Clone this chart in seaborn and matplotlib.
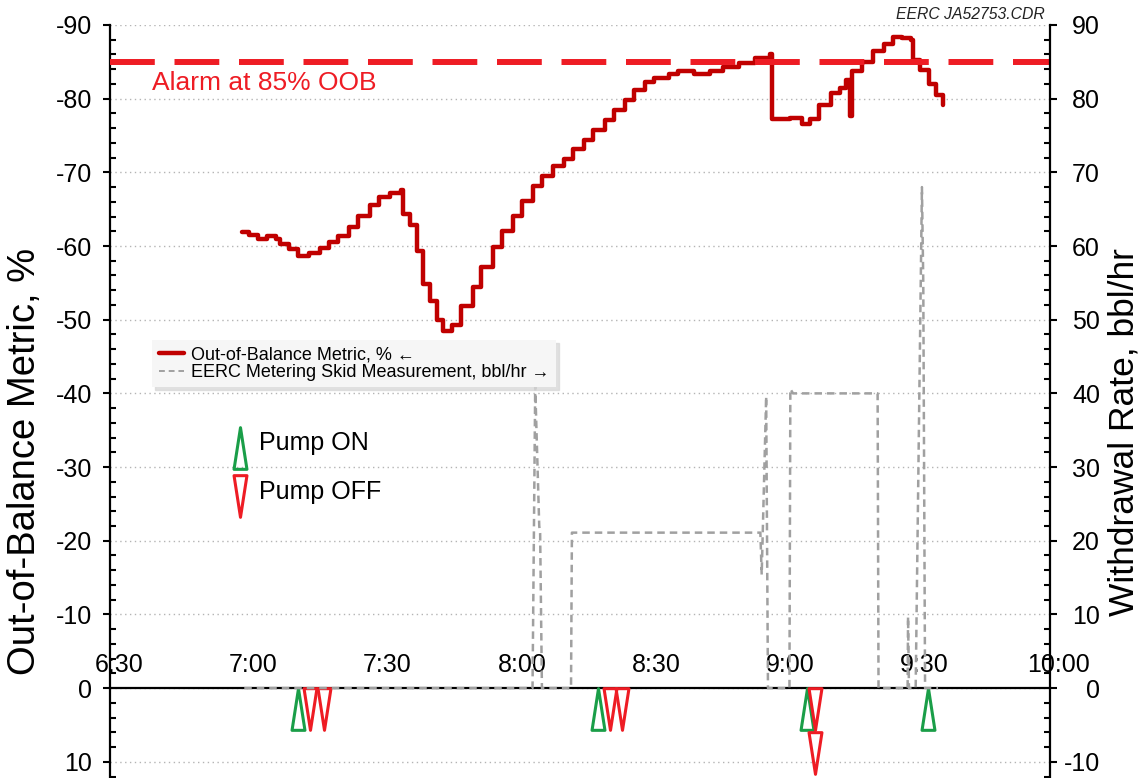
import matplotlib
matplotlib.use('Agg')
import numpy as np
import pandas as pd
import matplotlib.pyplot as plt
import matplotlib.ticker as mticker
from matplotlib.path import Path
from matplotlib.lines import Line2D
from matplotlib.transforms import ScaledTranslation
import seaborn as sns

# ── data (times are minutes after midnight) ──────────────────────────────────
oob_time = [419.5, 421.0, 423.0, 425.0, 427.0, 428.0, 430.0, 432.0, 434.5, 437.0,
            439.0, 441.0, 443.5, 445.5, 448.0, 450.0, 452.5, 455.0, 455.5, 457.0,
            458.5, 460.0, 461.5, 463.0, 464.5, 466.5, 468.5, 471.0, 473.0, 475.5,
            477.5, 480.0, 482.0, 484.5, 486.5, 489.0, 491.5, 493.5, 496.0, 498.0,
            500.5, 502.5, 505.0, 507.0, 509.5, 511.5, 515.0, 517.0, 520.5, 524.0,
            527.0, 530.5, 534.0, 537.5, 538.0, 542.0, 544.5, 546.5, 548.5, 551.0,
            553.0, 554.5, 555.3, 555.8, 558.0, 560.5, 563.0, 565.0, 567.0, 569.0,
            569.5, 571.0, 573.0, 574.5, 576.0]
oob_pct = [-61.9, -61.5, -61.0, -61.4, -60.9, -60.3, -59.6, -58.6, -59.0, -59.7,
           -60.5, -61.4, -62.6, -64.1, -65.6, -66.6, -67.2, -67.6, -64.3, -62.9,
           -59.3, -54.8, -52.6, -50.0, -48.5, -49.3, -51.8, -54.5, -57.2, -59.9,
           -62.0, -64.1, -66.1, -68.2, -69.5, -70.9, -71.8, -73.2, -74.4, -75.7,
           -77.1, -78.5, -79.8, -81.2, -82.2, -82.8, -83.3, -83.8, -83.4, -83.7,
           -84.3, -84.8, -85.5, -86.0, -77.3, -77.4, -76.6, -77.3, -79.2, -80.8,
           -81.5, -82.5, -77.6, -83.8, -85.0, -86.4, -87.4, -88.4, -88.2, -88.0,
           -85.2, -83.9, -82.0, -80.5, -79.1]

skid_time = [420.0, 484.4, 485.0, 485.9, 486.1, 486.5, 493.0, 493.2, 535.3, 535.6,
             536.6, 537.0, 541.8, 542.0, 542.6, 561.5, 561.7, 568.2, 568.3, 568.5,
             570.0, 571.4, 571.7, 572.1, 575.0]
skid_rate = [0, 0, 41.0, 22.0, 21.0, 0, 0, 21.1, 21.1, 15.4,
             39.6, 0, 0, 40.6, 40.0, 40.0, 0, 0, 9.7, 0,
             0, 68.0, 55.0, 0, 0]

pump_on_time = [432.0, 499.0, 545.8, 572.7]
pump_off_time = [434.7, 437.8, 501.8, 504.3, 547.5, 547.5]
pump_off_stack = [0, 0, 0, 0, 0, 1]

alarm_level = -85
x_ticks = [390, 420, 450, 480, 510, 540, 570, 600]

RED_LINE = '#c00000'
ALARM = '#ee1c24'
GRAY = '#a0a0a0'
GREEN = '#1a9e48'

sns.set_theme(style='white')
plt.rcParams['font.family'] = ['Liberation Sans', 'DejaVu Sans']
plt.rcParams.update({'text.color': 'black', 'axes.labelcolor': 'black',
                     'xtick.color': 'black', 'ytick.color': 'black'})

fig = plt.figure(figsize=(11.41, 7.78), dpi=100)
ax = fig.add_axes([0.0964, 0.0, 0.8238, 0.9679])
ax2 = ax.twinx()

# ── lines ────────────────────────────────────────────────────────────────────
oob = pd.DataFrame({'time': oob_time, 'oob': oob_pct})
skid = pd.DataFrame({'time': skid_time, 'rate': skid_rate})

sns.lineplot(data=oob, x='time', y='oob', ax=ax, estimator=None, sort=False,
             color=RED_LINE, lw=3.2, drawstyle='steps-post', zorder=4, legend=False)
sns.lineplot(data=skid, x='time', y='rate', ax=ax2, estimator=None, sort=False,
             color=GRAY, lw=1.8, dashes=False, legend=False)
ax2.lines[-1].set_dashes((3, 2))
ax2.lines[-1].set_zorder(3)

ax.axhline(alarm_level, color=ALARM, lw=4.3, dashes=(7.5, 3.3), zorder=5)
ax.text(0.0447, 0.923, 'Alarm at 85% OOB', transform=ax.transAxes,
        color=ALARM, fontsize=19, ha='left', va='center')

# ── pump markers ─────────────────────────────────────────────────────────────
tri_up = Path([(-0.31, -1), (0.31, -1), (0, 1), (-0.31, -1)],
              [Path.MOVETO, Path.LINETO, Path.LINETO, Path.CLOSEPOLY])
tri_dn = Path([(-0.31, 1), (0.31, 1), (0, -1), (-0.31, 1)],
              [Path.MOVETO, Path.LINETO, Path.LINETO, Path.CLOSEPOLY])

off_y = [2.85 + 5.9 * s for s in pump_off_stack]
ax.plot(pump_on_time, [2.85] * len(pump_on_time), ls='none', marker=tri_up,
        ms=30, mfc='none', mec=GREEN, mew=2.2, zorder=6, clip_on=False)
ax.plot(pump_off_time, off_y, ls='none', marker=tri_dn,
        ms=30, mfc='none', mec=ALARM, mew=2.2, zorder=6, clip_on=False)

# key for pump markers
ax.plot([0.138], [0.438], transform=ax.transAxes, marker=tri_up, ms=30,
        mfc='none', mec=GREEN, mew=2.2, ls='none')
ax.plot([0.138], [0.374], transform=ax.transAxes, marker=tri_dn, ms=30,
        mfc='none', mec=ALARM, mew=2.2, ls='none')
ax.text(0.158, 0.445, 'Pump ON', transform=ax.transAxes, fontsize=18, va='center')
ax.text(0.158, 0.38, 'Pump OFF', transform=ax.transAxes, fontsize=18, va='center')

# ── axes ─────────────────────────────────────────────────────────────────────
ax.set_xlim(390, 600)
ax.set_ylim(12.2, -90)
ax2.set_ylim(-12.2, 90)

ax.xaxis.set_major_locator(mticker.FixedLocator(x_ticks))
ax.xaxis.set_minor_locator(mticker.MultipleLocator(15))
ax.xaxis.set_major_formatter(mticker.FuncFormatter(lambda m, _: f'{int(m) // 60}:{int(m) % 60:02d}'))
ax.yaxis.set_major_locator(mticker.MultipleLocator(10))
ax.yaxis.set_minor_locator(mticker.MultipleLocator(2))
ax.yaxis.set_major_formatter(mticker.FuncFormatter(lambda v, _: f'{int(round(v))}'))
ax2.yaxis.set_major_locator(mticker.MultipleLocator(10))
ax2.yaxis.set_minor_locator(mticker.MultipleLocator(2))
ax2.yaxis.set_major_formatter(mticker.FuncFormatter(lambda v, _: f'{int(round(v))}'))

for a in (ax, ax2):
    for s in a.spines.values():
        s.set_color('black')
        s.set_linewidth(1.6)
    a.spines['top'].set_visible(False)
ax.spines['right'].set_visible(False)
ax2.spines['left'].set_visible(False)
ax2.spines['bottom'].set_visible(False)
ax.spines['bottom'].set_position(('data', 0))
ax.spines['bottom'].set_zorder(2)

ax.tick_params(axis='x', which='major', direction='inout', length=8, width=1.5,
               labelsize=18, pad=-29)
ax.tick_params(axis='x', which='minor', direction='out', length=4, width=1.5)
ax.tick_params(axis='y', which='major', direction='out', length=5, width=1.5,
               labelsize=18, pad=8)
ax.tick_params(axis='y', which='minor', direction='in', length=4, width=1.5)
ax2.tick_params(axis='y', which='major', direction='out', length=5, width=1.5,
                labelsize=18, pad=31)
ax2.tick_params(axis='y', which='minor', direction='in', length=4, width=1.5)
for lab in ax2.get_yticklabels():
    lab.set_ha('right')

shift = ScaledTranslation(9 / 100, 0, fig.dpi_scale_trans)
for lab in ax.get_xticklabels():
    lab.set_transform(lab.get_transform() + shift)

ax.grid(False)
ax2.grid(False)
ax.yaxis.grid(True, color='#b4b4b4', ls=(0, (1, 2.5)), lw=1)
ax.set_axisbelow(True)

ax.set_xlabel('')
ax.set_ylabel('Out-of-Balance Metric, %', fontsize=27.5)
ax.yaxis.set_label_coords(-0.071, 0.421)
ax2.set_ylabel('Withdrawal Rate, bbl/hr', fontsize=25.5)
ax2.yaxis.set_label_coords(1.061, 0.4595)

ax.text(0.995, 1.004, 'EERC JA52753.CDR', transform=ax.transAxes, fontsize=11.3,
        style='italic', ha='right', va='bottom', color='#222222')

# ── legend ───────────────────────────────────────────────────────────────────
handles = [Line2D([], [], color=RED_LINE, lw=3.2),
           Line2D([], [], color=GRAY, lw=1.4, dashes=(3, 2))]
labels = ['Out-of-Balance Metric, % \u2190',
          'EERC Metering Skid Measurement, bbl/hr \u2192']
leg = ax2.legend(handles, labels, loc='upper left', bbox_to_anchor=(0.045, 0.582),
                 fontsize=13, frameon=True, facecolor='#f6f6f6', edgecolor='none',
                 framealpha=1, fancybox=False, shadow={'color': '0.85', 'alpha': 0.8},
                 handlelength=1.4, handletextpad=0.4, labelspacing=0.05,
                 borderpad=0.35, borderaxespad=0)

fig.savefig('out.png', dpi=100)
